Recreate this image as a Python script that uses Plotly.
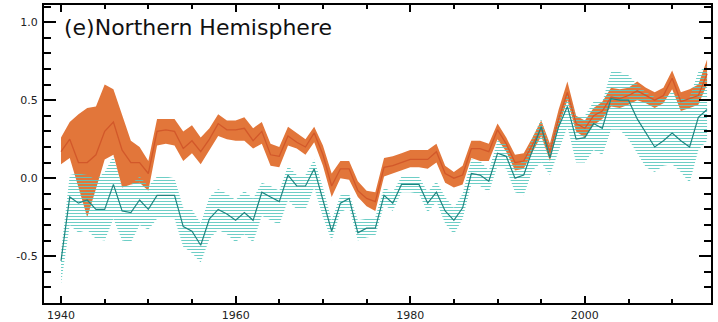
import plotly.graph_objects as go

years = list(range(1940, 2015))

# Orange series (centre, upper, lower)
orange_mid = [0.17, 0.25, 0.10, 0.10, 0.15, 0.30, 0.36, 0.18, 0.10, 0.10,
              0.03, 0.30, 0.31, 0.30, 0.19, 0.24, 0.17, 0.25, 0.35, 0.31,
              0.31, 0.32, 0.24, 0.30, 0.15, 0.14, 0.27, 0.23, 0.20, 0.29,
              0.15, -0.05, 0.06, 0.06, -0.08, -0.13, -0.15, 0.07, 0.08, 0.10,
              0.12, 0.12, 0.12, 0.17, 0.03, 0.00, 0.02, 0.19, 0.19, 0.17,
              0.31, 0.22, 0.10, 0.11, 0.22, 0.32, 0.17, 0.38, 0.55, 0.35,
              0.32, 0.40, 0.43, 0.52, 0.51, 0.53, 0.56, 0.53, 0.50, 0.53,
              0.64, 0.49, 0.51, 0.53, 0.67]
orange_hi = [0.26, 0.36, 0.41, 0.45, 0.46, 0.60, 0.57, 0.41, 0.24, 0.20,
             0.11, 0.38, 0.38, 0.38, 0.30, 0.34, 0.26, 0.32, 0.41, 0.37,
             0.37, 0.39, 0.32, 0.36, 0.22, 0.20, 0.33, 0.29, 0.25, 0.33,
             0.21, 0.03, 0.11, 0.11, -0.02, -0.08, -0.09, 0.13, 0.14, 0.16,
             0.18, 0.18, 0.18, 0.22, 0.08, 0.04, 0.08, 0.24, 0.24, 0.22,
             0.35, 0.26, 0.15, 0.16, 0.26, 0.37, 0.22, 0.44, 0.62, 0.40,
             0.37, 0.45, 0.49, 0.58, 0.57, 0.58, 0.62, 0.58, 0.55, 0.58,
             0.69, 0.55, 0.57, 0.60, 0.76]
orange_lo = [0.09, 0.13, -0.06, -0.25, -0.07, 0.12, 0.15, -0.06, -0.04, -0.03,
             -0.08, 0.21, 0.22, 0.21, 0.11, 0.16, 0.09, 0.18, 0.27, 0.25,
             0.24, 0.24, 0.19, 0.22, 0.08, 0.07, 0.21, 0.19, 0.15, 0.23,
             0.08, -0.12, 0.00, -0.01, -0.12, -0.18, -0.21, 0.01, 0.03, 0.05,
             0.07, 0.07, 0.06, 0.10, -0.03, -0.06, -0.04, 0.13, 0.11, 0.11,
             0.25, 0.17, 0.05, 0.06, 0.17, 0.27, 0.11, 0.33, 0.50, 0.30,
             0.26, 0.34, 0.38, 0.46, 0.45, 0.47, 0.50, 0.48, 0.45, 0.48,
             0.57, 0.43, 0.45, 0.47, 0.60]

# Teal series (centre, upper, lower)
teal_mid = [-0.53, -0.12, -0.16, -0.14, -0.20, -0.20, -0.04, -0.21, -0.22, -0.14,
            -0.20, -0.11, -0.11, -0.11, -0.31, -0.34, -0.43, -0.26, -0.20, -0.23,
            -0.27, -0.22, -0.27, -0.09, -0.12, -0.15, 0.02, -0.05, -0.05, 0.06,
            -0.14, -0.34, -0.16, -0.13, -0.35, -0.32, -0.32, -0.11, -0.16, -0.04,
            -0.04, -0.04, -0.16, -0.09, -0.21, -0.27, -0.19, 0.03, 0.02, -0.02,
            0.16, 0.14, 0.00, 0.02, 0.18, 0.33, 0.13, 0.33, 0.46, 0.25,
            0.26, 0.35, 0.32, 0.51, 0.50, 0.50, 0.38, 0.29, 0.20, 0.24,
            0.29, 0.24, 0.20, 0.39, 0.44]
teal_hi = [-0.47, 0.02, 0.03, 0.02, -0.01, 0.04, 0.14, -0.05, -0.04, 0.01,
           -0.05, 0.01, 0.01, 0.00, -0.19, -0.20, -0.29, -0.12, -0.07, -0.10,
           -0.14, -0.08, -0.13, -0.03, -0.05, -0.08, 0.08, 0.02, 0.02, 0.12,
           -0.06, -0.27, -0.11, -0.10, -0.27, -0.26, -0.25, -0.06, -0.09, 0.01,
           0.02, 0.01, -0.09, -0.02, -0.12, -0.19, -0.10, 0.12, 0.11, 0.05,
           0.24, 0.22, 0.08, 0.11, 0.26, 0.38, 0.20, 0.40, 0.54, 0.40,
           0.40, 0.49, 0.49, 0.68, 0.68, 0.66, 0.60, 0.55, 0.52, 0.52,
           0.55, 0.52, 0.52, 0.68, 0.72]
teal_lo = [-0.68, -0.30, -0.35, -0.33, -0.39, -0.40, -0.26, -0.40, -0.41, -0.30,
           -0.33, -0.26, -0.26, -0.26, -0.44, -0.48, -0.54, -0.39, -0.33, -0.36,
           -0.41, -0.36, -0.41, -0.24, -0.27, -0.30, -0.14, -0.20, -0.20, -0.06,
           -0.25, -0.40, -0.22, -0.19, -0.40, -0.38, -0.37, -0.17, -0.21, -0.09,
           -0.09, -0.10, -0.22, -0.15, -0.29, -0.36, -0.26, -0.04, -0.05, -0.09,
           0.08, 0.06, -0.09, -0.11, 0.05, 0.10, 0.02, 0.18, 0.33, 0.10,
           0.10, 0.18, 0.15, 0.31, 0.31, 0.25, 0.16, 0.07, 0.04, 0.08,
           0.09, 0.04, -0.03, 0.18, 0.24]

y_tick_vals = [-0.5, 0.0, 0.5, 1.0]
y_tick_text = ["-0.5", "0.0", "0.5", "1.0"]
title_text = "(e)Northern Hemisphere"

ORANGE_FILL = "#E2763A"
ORANGE_LINE = "#D2582A"
TEAL_HATCH = "#5CC8C0"
TEAL_LINE = "#1F8580"
FONT = "DejaVu Sans"

fig = go.Figure()

# orange band
fig.add_trace(go.Scatter(x=years, y=orange_lo, mode="lines", line=dict(width=0),
                         showlegend=False, hoverinfo="skip"))
fig.add_trace(go.Scatter(x=years, y=orange_hi, mode="lines", line=dict(width=0),
                         fill="tonexty", fillcolor=ORANGE_FILL,
                         showlegend=False, hoverinfo="skip"))
# teal hatched band
fig.add_trace(go.Scatter(x=years, y=teal_lo, mode="lines", line=dict(width=0),
                         showlegend=False, hoverinfo="skip"))
fig.add_trace(go.Scatter(x=years, y=teal_hi, mode="lines", line=dict(width=0),
                         fill="tonexty", fillcolor="rgba(0,0,0,0)",
                         fillpattern=dict(shape="-", fgcolor=TEAL_HATCH,
                                          bgcolor="rgba(0,0,0,0)", size=3,
                                          solidity=0.3, fillmode="replace"),
                         showlegend=False, hoverinfo="skip"))
# centre lines
fig.add_trace(go.Scatter(x=years, y=orange_mid, mode="lines",
                         line=dict(color=ORANGE_LINE, width=1.3),
                         showlegend=False))
fig.add_trace(go.Scatter(x=years, y=teal_mid, mode="lines",
                         line=dict(color=TEAL_LINE, width=1.2),
                         showlegend=False))

fig.add_annotation(x=1940.1, y=0.968, xref="x", yref="y", text=title_text,
                   showarrow=False, xanchor="left", yanchor="middle",
                   font=dict(family=FONT, size=22, color="#111111"))

fig.update_layout(
    width=718, height=322,
    margin=dict(l=44, r=7, t=5, b=19, autoexpand=False),
    paper_bgcolor="white", plot_bgcolor="white",
    font=dict(family=FONT, size=11, color="#222222"),
)
fig.update_xaxes(range=[1938.05, 2014.45], showgrid=False, zeroline=False,
                 automargin=False,
                 showline=True, linecolor="black", linewidth=2, mirror="ticks",
                 ticks="inside", ticklen=7, tickwidth=2, tickcolor="black",
                 tickmode="linear", tick0=1940, dtick=20,
                 ticklabelstandoff=1,
                 minor=dict(ticks="inside", ticklen=4, tickwidth=1.5,
                            tickcolor="black", tickmode="linear", dtick=5,
                            tick0=1940, showgrid=False))
fig.update_yaxes(range=[-0.8, 1.11], showgrid=False, zeroline=False,
                 automargin=False,
                 showline=True, linecolor="black", linewidth=2, mirror="ticks",
                 ticks="inside", ticklen=12, tickwidth=2, tickcolor="black",
                 tickmode="array", tickvals=y_tick_vals, ticktext=y_tick_text,
                 ticklabelstandoff=2,
                 minor=dict(ticks="inside", ticklen=7, tickwidth=1.5,
                            tickcolor="black", tickmode="linear", dtick=0.1,
                            tick0=0, showgrid=False))

fig.write_html("out.html", config={"displayModeBar": False},
               post_script="document.body.style.margin='0';document.body.style.overflow='hidden';")
